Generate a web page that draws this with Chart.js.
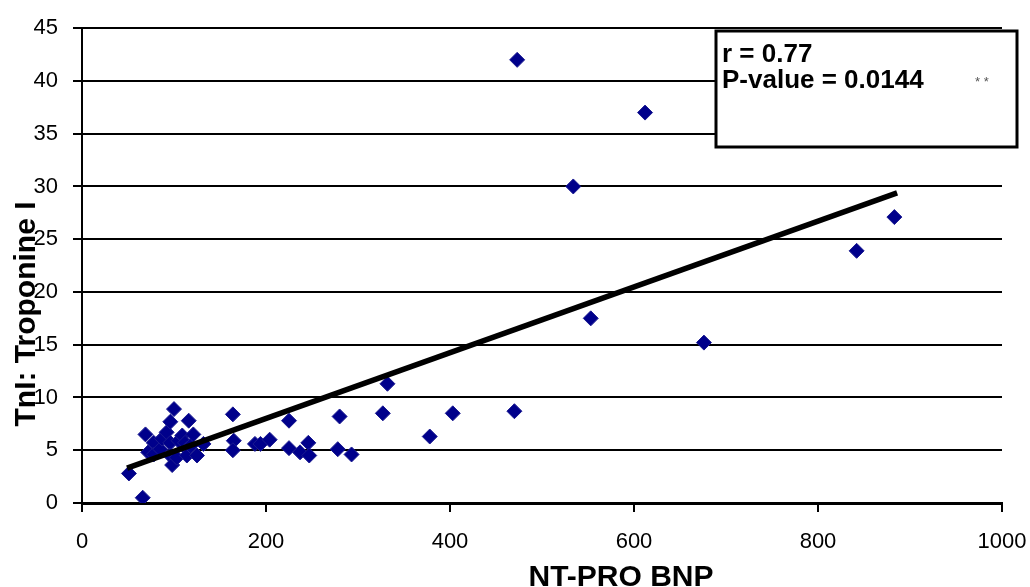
<!DOCTYPE html>
<html>
<head>
<meta charset="utf-8">
<script src="https://cdn.jsdelivr.net/npm/chart.js@4.4.0/dist/chart.umd.min.js"></script>
<style>
  html, body { margin: 0; padding: 0; background: #fff; }
  #wrap { width: 1030px; height: 587px; position: relative; }
</style>
</head>
<body>
<div id="wrap"><canvas id="scatterChart"></canvas></div>
<script>
    // NT-PRO BNP (x) and TnI (y) values
    const bnpValues = [51, 66, 69, 78, 72, 78, 85, 87, 92, 96, 96, 96, 98, 100, 103, 105, 109, 112, 114, 114, 116, 118, 121, 125, 132,
        164, 165, 164, 188, 194, 204, 225, 225, 237, 246, 247, 280, 278, 293, 332, 327, 378, 403, 470, 473, 534, 553, 612, 676, 842, 883];
    const tniValues = [2.8, 0.5, 6.5, 5.7, 4.8, 4.6, 5.1, 6.1, 6.7, 7.7, 5.7, 4.5, 3.6, 8.9, 4.3, 5.9, 6.4, 5.7, 5.1, 4.5, 7.8, 5.4, 6.5, 4.5, 5.6,
        8.4, 5.9, 5.0, 5.6, 5.6, 6.0, 7.8, 5.2, 4.8, 5.7, 4.5, 8.2, 5.1, 4.6, 11.3, 8.5, 6.3, 8.5, 8.7, 42.0, 30.0, 17.5, 37.0, 15.2, 23.9, 27.1];

    // regression line end points
    const trendX = [49, 886];
    const trendY = [3.3, 29.4];

    const xTicks = [0, 200, 400, 600, 800, 1000];
    const yTicks = [0, 5, 10, 15, 20, 25, 30, 35, 40, 45];

    const statLines = ['r = 0.77', 'P-value = 0.0144'];
    const statStars = '* *';
    const xTitle = 'NT-PRO BNP';
    const yTitle = 'TnI: Troponine I';

    const points = bnpValues.map((x, i) => ({ x: x, y: tniValues[i] }));
    const trend = trendX.map((x, i) => ({ x: x, y: trendY[i] }));

    const FONT = 'Arial, "Liberation Sans", sans-serif';

    // titles and r / p box drawn on top
    const overlayPlugin = {
        id: 'overlay',
        afterDraw(chart) {
            const ctx = chart.ctx;
            ctx.save();
            ctx.fillStyle = '#000';

            // x title
            ctx.font = 'bold 30px ' + FONT;
            ctx.textAlign = 'center';
            ctx.textBaseline = 'alphabetic';
            ctx.fillText(xTitle, 621, 586);

            // y title
            ctx.save();
            ctx.translate(35, 314);
            ctx.rotate(-Math.PI / 2);
            ctx.fillText(yTitle, 0, 0);
            ctx.restore();

            // stats box
            ctx.fillStyle = '#fff';
            ctx.fillRect(716, 31, 301, 116);
            ctx.strokeStyle = '#000';
            ctx.lineWidth = 3;
            ctx.strokeRect(716, 31, 301, 116);
            ctx.fillStyle = '#000';
            ctx.textAlign = 'left';
            ctx.font = 'bold 26px ' + FONT;
            ctx.fillText(statLines[0], 722, 62);
            ctx.fillText(statLines[1], 722, 88);
            ctx.font = '13px ' + FONT;
            ctx.fillStyle = '#555';
            ctx.fillText(statStars, 975, 86);
            ctx.restore();
        }
    };

    window.onload = () => {
        new Chart(document.getElementById('scatterChart'), {
            type: 'scatter',
            data: {
                datasets: [
                    {
                        label: 'trend',
                        data: trend,
                        showLine: true,
                        borderColor: '#000',
                        borderWidth: 5.5,
                        pointRadius: 0,
                        order: 0
                    },
                    {
                        label: 'TnI',
                        data: points,
                        pointStyle: 'rectRot',
                        pointRadius: 7.5,
                        pointBackgroundColor: '#00008B',
                        pointBorderColor: '#1a1a90',
                        pointBorderWidth: 1,
                        order: 1
                    }
                ]
            },
            options: {
                responsive: true,
                maintainAspectRatio: false,
                animation: false,
                layout: { padding: { top: 19, right: 28, left: 0, bottom: 0 } },
                plugins: {
                    legend: { display: false },
                    tooltip: { enabled: false }
                },
                scales: {
                    x: {
                        type: 'linear',
                        min: 0,
                        max: 1000,
                        afterBuildTicks: axis => { axis.ticks = xTicks.map(v => ({ value: v })); },
                        afterFit: axis => { axis.height = 84; axis.paddingRight = 0; axis.paddingLeft = 0; },
                        ticks: {
                            color: '#000',
                            padding: 17,
                            callback: v => String(v),
                            font: { family: FONT, size: 22 }
                        },
                        grid: {
                            drawOnChartArea: false,
                            drawTicks: true,
                            tickLength: 9,
                            color: '#000',
                            lineWidth: 2
                        },
                        border: { color: '#000', width: 3 }
                    },
                    y: {
                        type: 'linear',
                        min: 0,
                        max: 45,
                        afterBuildTicks: axis => { axis.ticks = yTicks.map(v => ({ value: v })); },
                        afterFit: axis => { axis.width = 82; },
                        ticks: {
                            color: '#000',
                            padding: 15,
                            font: { family: FONT, size: 22 }
                        },
                        grid: {
                            color: '#000',
                            lineWidth: 2,
                            tickLength: 9
                        },
                        border: { color: '#000', width: 2 }
                    }
                }
            },
            plugins: [overlayPlugin]
        });
    };
</script>
</body>
</html>
